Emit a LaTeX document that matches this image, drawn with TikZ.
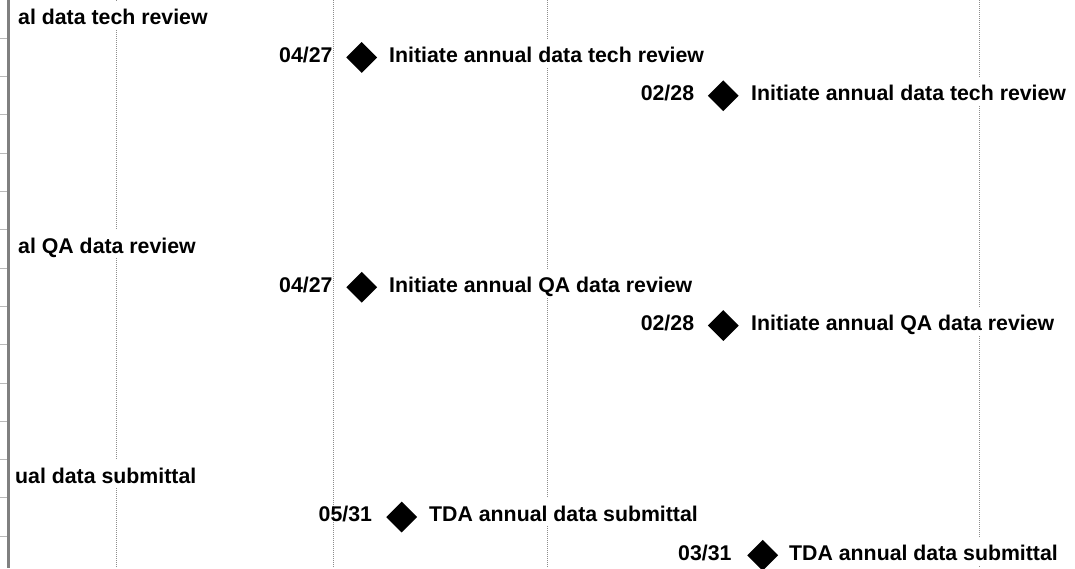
\documentclass[tikz,border=0pt]{standalone}
\usepackage{fontspec}
\setmainfont{Liberation Sans}
\usetikzlibrary{shapes.geometric}
\tikzset{
  gridline/.style={draw=gray!90, line width=0.9pt, dash pattern=on 1pt off 1pt},
  tickline/.style={draw=gray!55, line width=0.9pt},
  border/.style={draw=gray, line width=2.8pt},
  taskname/.style={anchor=base west, fill=white, inner xsep=1pt, inner ysep=0pt,
     text height=23.5pt, text depth=4.5pt, font=\fontsize{21.3}{25}\selectfont\bfseries},
  datelabel/.style={anchor=base east, inner sep=0pt, font=\fontsize{21.3}{25}\selectfont\bfseries},
  milestone/.style={diamond, fill=black, draw=none, inner sep=0pt, minimum size=31pt},
}
\begin{document}
\begin{tikzpicture}[x=1pt,y=-1pt]
\useasboundingbox (0,0) rectangle (1075,568);
% vertical dotted grid lines
\foreach \gx in {116,333,547,979}{
  \draw[gridline] (\gx,0) -- (\gx,568);
}
% left tick marks
\foreach \k in {1,...,14}{
  \draw[tickline] (0,{38.3*\k}) -- (7,{38.3*\k});
}
\draw[border] (8.7,0) -- (8.7,568);

% group A
\node[taskname] (a1) at (17,{38.3*0+24}) {al data tech review};
\node[milestone] (a2d) at (361.7,{38.3*1+19.15}) {};
\node[datelabel] (a2t) at (332.7,{38.3*1+24}) {04/27};
\node[taskname] (a2n) at (388,{38.3*1+24}) {Initiate annual data tech review};
\node[milestone] (a3d) at (723.3,{38.3*2+19.15}) {};
\node[datelabel] (a3t) at (694.3,{38.3*2+24}) {02/28};
\node[taskname] (a3n) at (750,{38.3*2+24}) {Initiate annual data tech review};

% group B
\node[taskname] (b1) at (17,{38.3*6+24}) {al QA data review};
\node[milestone] (b2d) at (361.7,{38.3*7+19.15}) {};
\node[datelabel] (b2t) at (332.7,{38.3*7+24}) {04/27};
\node[taskname] (b2n) at (388,{38.3*7+24}) {Initiate annual QA data review};
\node[milestone] (b3d) at (723.3,{38.3*8+19.15}) {};
\node[datelabel] (b3t) at (694.3,{38.3*8+24}) {02/28};
\node[taskname] (b3n) at (750,{38.3*8+24}) {Initiate annual QA data review};

% group C
\node[taskname] (c1) at (14,{38.3*12+24}) {ual data submittal};
\node[milestone] (c2d) at (401.7,{38.3*13+19.15}) {};
\node[datelabel] (c2t) at (372.2,{38.3*13+24}) {05/31};
\node[taskname] (c2n) at (428,{38.3*13+24}) {TDA annual data submittal};
\node[milestone] (c3d) at (762.7,{38.3*14+19.15}) {};
\node[datelabel] (c3t) at (731.7,{38.3*14+24}) {03/31};
\node[taskname] (c3n) at (788,{38.3*14+24}) {TDA annual data submittal};
\end{tikzpicture}
\end{document}
